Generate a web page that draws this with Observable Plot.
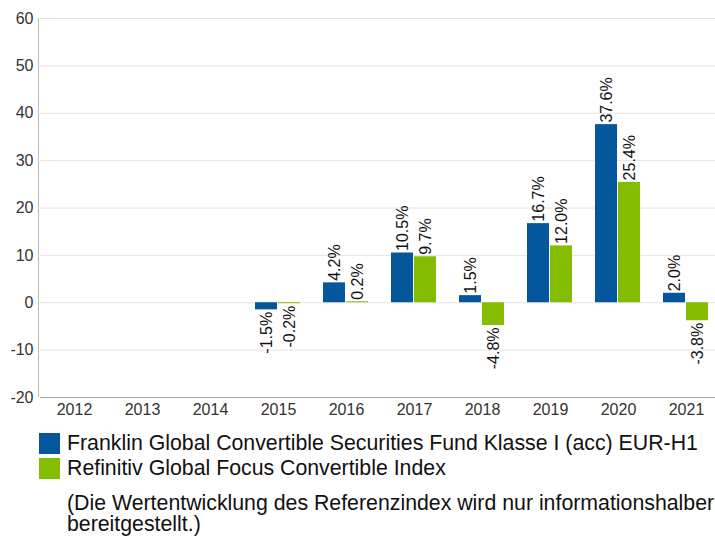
<!DOCTYPE html>
<html>
<head>
<meta charset="utf-8">
<script src="https://cdn.jsdelivr.net/npm/d3@7"></script>
<script src="https://cdn.jsdelivr.net/npm/@observablehq/plot@0.6"></script>
<style>
  body { margin: 0; background: #fff; font-family: "Liberation Sans", Arial, sans-serif; overflow: hidden; }
  #chart { position: absolute; left: 0; top: 0; width: 715px; height: 420px; overflow: hidden; }
  .legend { position: absolute; left: 39px; top: 431px; font-size: 21.3px; color: #111; white-space: nowrap; }
  .row { display: flex; align-items: center; height: 25px; }
  .sw { width: 21px; height: 21px; margin-right: 7px; }
  .note { position: absolute; left: 67px; top: 493px; font-size: 21.3px; line-height: 21px; color: #111; white-space: nowrap; }
</style>
</head>
<body>
<div id="chart"></div>
<div class="legend" id="legend"></div>
<div class="note">(Die Wertentwicklung des Referenzindex wird nur informationshalber<br>bereitgestellt.)</div>
<script>
const years = ["2012","2013","2014","2015","2016","2017","2018","2019","2020","2021"];
const seriesNames = [
  "Franklin Global Convertible Securities Fund Klasse I (acc) EUR-H1",
  "Refinitiv Global Focus Convertible Index"
];
const fundValues  = [null, null, null, -1.5, 4.2, 10.5, 1.5, 16.7, 37.6, 2.0];
const indexValues = [null, null, null, -0.2, 0.2, 9.7, -4.8, 12.0, 25.4, -3.8];
const yTicks = [-20, -10, 0, 10, 20, 30, 40, 50, 60];
const colors = ["#04579b", "#84bc00"];

const data = [];
years.forEach((y, i) => {
  if (fundValues[i] != null) data.push({year: y, series: seriesNames[0], value: fundValues[i]});
  if (indexValues[i] != null) data.push({year: y, series: seriesNames[1], value: indexValues[i]});
});
// grid rows: one per year and tick, so every year facet is drawn
const gridRows = years.flatMap(y => yTicks.map(t => ({year: y, tick: t})));
const fmt = v => v.toFixed(1) + "%";

const chart = Plot.plot({
  width: 715,
  height: 420,
  marginLeft: 38,
  marginRight: -7,
  marginTop: 18,
  marginBottom: 23,
  style: {fontFamily: "'Liberation Sans', Arial, sans-serif", fontSize: "16px", color: "#333", background: "#fff", overflow: "hidden"},
  fx: {domain: years, padding: 0, label: null, tickSize: 0, tickPadding: 6},
  x: {domain: seriesNames, axis: null, paddingInner: 0.04, paddingOuter: 0.45},
  y: {domain: [-20, 60], ticks: yTicks, tickFormat: d => String(d), label: null, tickSize: 0, tickPadding: 7},
  color: {domain: seriesNames, range: colors},
  marks: [
    Plot.ruleY(gridRows, {fx: "year", y: "tick", stroke: "#e4e4e4"}),
    Plot.barY(data, {fx: "year", x: "series", y: "value", fill: "series"}),
    Plot.text(data.filter(d => d.value >= 0), {fx: "year", x: "series", y: "value", text: d => fmt(d.value),
      rotate: -90, textAnchor: "start", dy: -2, fill: "#111", fontSize: 16}),
    Plot.text(data.filter(d => d.value < 0), {fx: "year", x: "series", y: "value", text: d => fmt(d.value),
      rotate: -90, textAnchor: "end", dy: 2, fill: "#111", fontSize: 16}),
    Plot.ruleY(gridRows.filter(d => d.tick === -20), {fx: "year", y: "tick", stroke: "#aaa"})
  ]
});
document.getElementById("chart").appendChild(chart);

// left axis line
const svg = d3.select(chart);
svg.append("line")
  .attr("x1", 38.5).attr("x2", 38.5).attr("y1", 18).attr("y2", 397)
  .attr("stroke", "#bbb");

const legend = document.getElementById("legend");
seriesNames.forEach((s, i) => {
  const row = document.createElement("div");
  row.className = "row";
  row.innerHTML = `<div class="sw" style="background:${colors[i]}"></div><span>${s}</span>`;
  legend.appendChild(row);
});
</script>
</body>
</html>
